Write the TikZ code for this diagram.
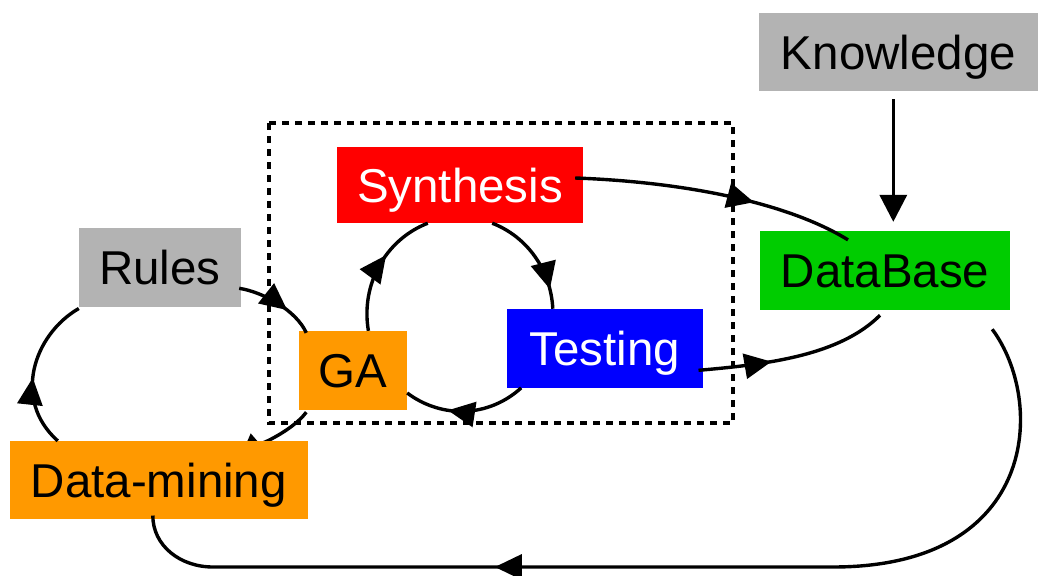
\documentclass[tikz,border=0pt]{standalone}
\usepackage{fontspec}
\setmainfont{Liberation Sans}
\usetikzlibrary{arrows.meta,calc,decorations.markings,backgrounds}
\definecolor{boxgray}{HTML}{B3B3B3}
\definecolor{boxgreen}{HTML}{00CC00}
\definecolor{boxorange}{HTML}{FF9900}
\begin{document}
\begin{tikzpicture}[x=1pt,y=-1pt,
  box/.style={rectangle, inner sep=0pt, text height=34pt, text depth=0pt,
    font=\fontsize{47.5}{57}\selectfont, anchor=center},
  conn/.style={line width=3.4pt},
  tipend/.style={-{Triangle[length=27pt,width=27pt]}},
  midarr/.style={postaction=decorate, decoration={markings,
    mark=at position #1 with {\arrow{Triangle[length=27pt,width=25pt]}}}},
  dashbox/.style={line width=3.6pt, dash pattern=on 7pt off 6pt}]
\useasboundingbox (0,0) rectangle (1053,576);

\draw[dashbox] (269,123) rectangle (733,423);

\node[box, fill=boxgray, minimum width=279pt, minimum height=78pt] (Knowledge) at (898.5,52) {Knowledge};
\node[box, fill=red, text=white, minimum width=246pt, minimum height=76pt] (Synthesis) at (460,185) {Synthesis};
\node[box, fill=boxgray, minimum width=162pt, minimum height=79pt] (Rules) at (160,267.3) {Rules};
\node[box, fill=boxgreen, minimum width=250pt, minimum height=78.5pt] (DataBase) at (885,270.3) {DataBase};
\node[box, fill=blue, text=white, minimum width=196.6pt, minimum height=78.7pt] (Testing) at (605,348.3) {Testing};
\node[box, fill=boxorange, minimum width=108pt, minimum height=79pt] (GA) at (353,370.5) {GA};
\node[box, fill=boxorange, minimum width=297.7pt, minimum height=78.3pt] (DM) at (158.8,480.2) {Data-mining};

\coordinate (loopR) at (833,567);
\coordinate (loopL) at (213,567);

% Knowledge -> DataBase
\draw[conn, tipend] ($(Knowledge.south)+(-5.2,8)$) -- ($(DataBase.north)+(8.3,-9)$);
% Synthesis -> DataBase
\draw[conn, midarr=0.64] ($(Synthesis.east)+(-8,-7)$) .. controls +(110,4) and +(-60,-37) .. ($(DataBase.north)+(-37,9)$);
% Testing -> DataBase
\draw[conn, midarr=0.38] ($(Testing.east)+(-5,22)$) .. controls +(70,-6) and +(-40,40) .. ($(DataBase.south)+(-5,5.5)$);
% DataBase -> Data-mining
\draw[conn, midarr=-370pt] ($(DataBase.south east)+(-18,19.5)$) .. controls +(53,71) and +(207,0) .. (loopR)
  -- (loopL) .. controls +(-33,0) and +(0,30) .. ($(DM.south)+(-6,-4)$);
% Data-mining -> Rules
\draw[conn, midarr=0.45] ($(DM.north west)+(48,0)$) .. controls +(-46,-41) and +(-45,26) .. ($(Rules.south west)+(0,1.5)$);
% Rules -> GA
\draw[conn, midarr=0.64] ($(Rules.east)+(-2,21)$) .. controls +(25,4) and +(-10,-22) .. ($(GA.north west)+(7.5,2)$);
% GA -> Data-mining (under the box)
\begin{pgfonlayer}{background}
\draw[conn, -{Triangle[length=27pt,width=25pt]}] ($(GA.south west)+(7.5,2)$) .. controls +(-15,20) and +(15,-13) .. ($(DM.north)+(80,20)$);
\end{pgfonlayer}
% GA -> Synthesis
\draw[conn, midarr=0.6] ($(GA.north)+(15.4,0)$) .. controls +(-7.9,-46.3) and +(-42.3,16.3) .. ($(Synthesis.south)+(-32.2,0)$);
% Synthesis -> Testing
\draw[conn, midarr=0.82] ($(Synthesis.south)+(32.2,0)$) .. controls +(34.9,13.4) and +(-1.9,-38.8) .. ($(Testing.north)+(-52.2,0)$);
% Testing -> GA
\draw[conn, midarr=0.64] ($(Testing.south)+(-83.8,0)$) .. controls +(-32.4,29.5) and +(35,26.1) .. ($(GA.east)+(0,22.5)$);
\end{tikzpicture}
\end{document}
